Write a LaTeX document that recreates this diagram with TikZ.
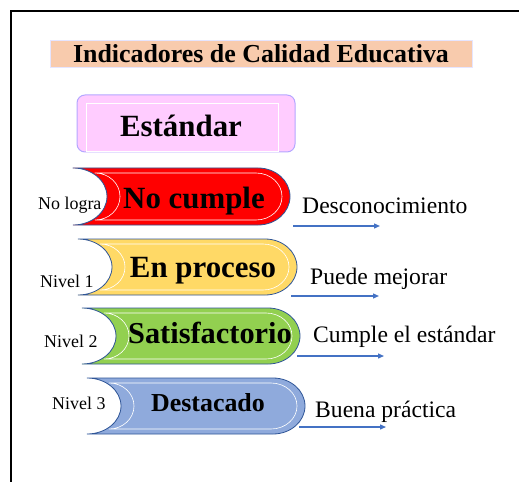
\documentclass[tikz,border=0pt]{standalone}
\usepackage{fontspec}
\setmainfont{Liberation Serif}
\usetikzlibrary{arrows.meta}
\definecolor{sborde}{HTML}{2F5597}
\definecolor{sflecha}{HTML}{4472C4}
\definecolor{srojo}{HTML}{FF0000}
\definecolor{samarillo}{HTML}{FFD966}
\definecolor{sverde}{HTML}{92D050}
\definecolor{sazul}{HTML}{8FAADC}
\definecolor{sdurazno}{HTML}{F8CBAD}
\definecolor{srosa}{HTML}{FFCCFF}
\definecolor{slila}{HTML}{B4A7FF}

% style, left, top, bottom, right, end radius, notch depth
\newcommand{\formanivel}[7]{%
  \draw[#1] ({#2},{-(#3)}) -- ({(#5)-(#6)},{-(#3)})
    arc[start angle=90,end angle=-90,x radius=#6,y radius={((#4)-(#3))/2}]
    -- ({#2},{-(#4)})
    arc[start angle=-90,end angle=90,x radius=#7,y radius={((#4)-(#3))/2}]
    -- cycle;}
\newcommand{\nivel}[5]{%
  \formanivel{fill=#5,draw=sborde,line width=0.8bp}{#1}{#2}{#3}{#4}{32}{34}
  \formanivel{draw=white,line width=0.6bp}{#1+22}{#2+5}{#3-5}{#4-8}{26}{25}}

\begin{document}
\begin{tikzpicture}[x=1bp,y=1bp,>={Triangle[length=6bp,width=5bp]},
    every edge/.style={draw=sflecha,line width=1.3bp},
    nivtexto/.style={anchor=base,inner sep=0,font=\fontsize{31}{31}\selectfont\bfseries},
    etiqueta/.style={anchor=base west,inner sep=0,font=\fontsize{18}{18}\selectfont},
    descripcion/.style={anchor=base west,inner sep=0,font=\fontsize{23.7}{23.7}\selectfont}]
        \useasboundingbox (0,0) rectangle (519,-482);
        \draw[line width=1.5bp] (11,-482) -- (11,-11) -- (519,-11);

        \node[draw=blue!10, fill=sdurazno, minimum width=422bp, minimum height=27bp, inner sep=0,
              font=\fontsize{26}{26}\selectfont\bfseries] (T) at (261,-53.5) {Indicadores de Calidad Educativa};

        \node[draw=slila, fill=srosa, rounded corners=8bp, line width=1bp, minimum width=218bp, minimum height=57bp,
              inner sep=0] (E) at (186,-123.5) {};
        \draw[white, line width=0.6bp] (86,-103) rectangle (278,-151);
        \node[nivtexto] (Et) at (181,-137) {Estándar};

        \nivel{73}{168}{225}{290}{srojo}
        \node[nivtexto] (N0) at (194,-208) {No cumple};
        \node[etiqueta] (L0) at (38,-209) {No logra};
        \node[descripcion] (D0) at (302,-213) {Desconocimiento};

        \nivel{78}{239}{295}{297}{samarillo}
        \node[nivtexto] (N1) at (203,-277) {En proceso};
        \node[etiqueta] (L1) at (40,-287) {Nivel 1};
        \node[descripcion] (D1) at (310,-284) {Puede mejorar};

        \nivel{82}{308}{364}{300}{sverde}
        \node[nivtexto, font=\fontsize{30.5}{30.5}\selectfont\bfseries] (N2) at (210,-343) {Satisfactorio};
        \node[etiqueta] (L2) at (44,-347) {Nivel 2};
        \node[descripcion] (D2) at (313,-342) {Cumple el estándar};

        \nivel{87}{378}{434}{305}{sazul}
        \node[nivtexto, font=\fontsize{26}{26}\selectfont\bfseries] (N3) at (208,-411) {Destacado};
        \node[etiqueta] (L3) at (52,-409) {Nivel 3};
        \node[descripcion] (D3) at (315,-417) {Buena práctica};

        \coordinate (A0) at (293,-226);  \coordinate (B0) at (380,-226);
        \coordinate (A1) at (291,-296);  \coordinate (B1) at (379,-296);
        \coordinate (A2) at (297,-356);  \coordinate (B2) at (384,-356);
        \coordinate (A3) at (299,-427);  \coordinate (B3) at (386,-427);

        \path [->](A0) edge (B0);
        \path [->](A1) edge (B1);
        \path [->](A2) edge (B2);
        \path [->](A3) edge (B3);

    \end{tikzpicture}
\end{document}
